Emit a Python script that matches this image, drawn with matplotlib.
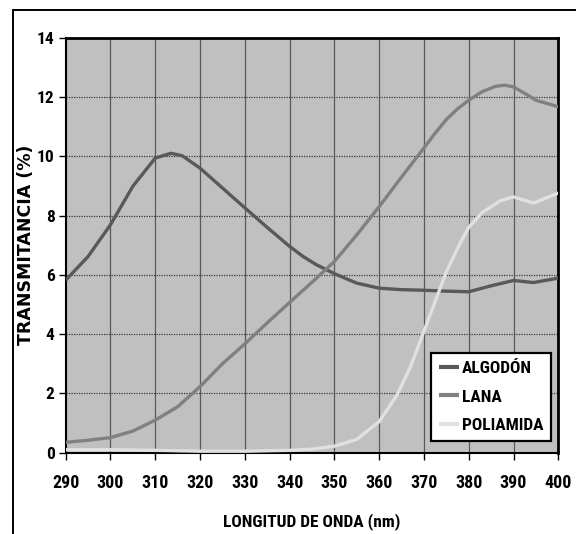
import matplotlib
matplotlib.use("Agg")
import matplotlib.pyplot as plt
from matplotlib import font_manager
from matplotlib.lines import Line2D

# ---- data ----
wl_algodon = [290, 295, 300, 305, 310, 313.5, 316, 320, 325, 330, 335, 340, 343, 346, 350, 355, 360, 365, 370, 375, 380, 385, 390, 394.5, 400]
algodon = [5.82, 6.62, 7.69, 8.99, 9.94, 10.1, 10.02, 9.6, 8.93, 8.26, 7.6, 6.96, 6.62, 6.34, 6.04, 5.72, 5.55, 5.5, 5.48, 5.45, 5.43, 5.63, 5.81, 5.74, 5.89]

wl_lana = [290, 295, 300, 305, 310, 315, 320, 325, 330, 335, 340, 345, 350, 355, 360, 365, 370, 372.5, 375, 377.5, 380, 383, 386, 388, 390, 393, 395, 400]
lana = [0.35, 0.42, 0.51, 0.73, 1.1, 1.55, 2.23, 3.0, 3.67, 4.38, 5.07, 5.75, 6.45, 7.35, 8.3, 9.3, 10.28, 10.78, 11.24, 11.6, 11.89, 12.18, 12.36, 12.4, 12.34, 12.08, 11.89, 11.67]

wl_poli = [290, 300, 310, 320, 330, 340, 345, 350, 355, 360, 364, 367, 370, 372.5, 375, 378, 380, 383, 387, 390, 394.5, 400]
poli = [0.1, 0.1, 0.08, 0.05, 0.05, 0.08, 0.12, 0.22, 0.45, 1.05, 1.95, 2.9, 4.1, 5.1, 6.1, 7.05, 7.6, 8.1, 8.5, 8.63, 8.42, 8.76]

series_names = ["ALGODÓN", "LANA", "POLIAMIDA"]
series_colors = ["#595959", "#808080", "#e0e0e0"]
x_ticks = [290, 300, 310, 320, 330, 340, 350, 360, 370, 380, 390, 400]
y_ticks = [0, 2, 4, 6, 8, 10, 12, 14]
x_label = "LONGITUD DE ONDA (nm)"
y_label = "TRANSMITANCIA (%)"

# ---- fonts: look for a narrow / condensed bold face ----
ttf = font_manager.fontManager.ttflist


def is_bold(f):
    w = f.weight
    if isinstance(w, str):
        return "bold" in w.lower() or "black" in w.lower() or "heavy" in w.lower()
    return w >= 600


def score(f):
    s = (f.name + " " + f.fname).lower()
    if "italic" in s or "oblique" in s:
        return None
    if not ("narrow" in s or "condensed" in s):
        return None
    if "semicondensed" in s or "semi" in s or "extra" in s or "ultra" in s:
        return None
    if not is_bold(f):
        return None
    order = ["liberation", "arial", "roboto", "noto", "open", "dejavu", "lato", "inter"]
    for i, o in enumerate(order):
        if o in s:
            return i
    return len(order)


cands = [(score(f), f) for f in ttf]
cands = [c for c in cands if c[0] is not None]
cands.sort(key=lambda c: c[0])
narrow_path = cands[0][1].fname if cands else None


def nfont(size):
    if narrow_path:
        return font_manager.FontProperties(fname=narrow_path, size=size)
    return font_manager.FontProperties(family=["Liberation Sans", "DejaVu Sans"],
                                       weight="bold", size=size * 0.85)


W, H = 576, 534
fig = plt.figure(figsize=(W / 100, H / 100), dpi=100)
fig.patch.set_facecolor("white")

# outer frame (top and left visible)
fig.add_artist(Line2D([13 / W, 13 / W], [0, 1 - 10 / H], transform=fig.transFigure,
                      color="black", lw=1.4))
fig.add_artist(Line2D([13 / W, 1], [1 - 10 / H, 1 - 10 / H], transform=fig.transFigure,
                      color="black", lw=1.4))

left, right = 65.7 / W, 558.3 / W
bottom, top = (H - 452.7) / H, (H - 37.7) / H
ax = fig.add_axes([left, bottom, right - left, top - bottom])
ax.set_facecolor("#c0c0c0")

ax.set_xlim(290, 400)
ax.set_ylim(0, 14)
ax.set_xticks(x_ticks)
ax.set_yticks(y_ticks)

# grid
for xv in x_ticks[1:-1]:
    ax.axvline(xv, color="#5a5a5a", lw=0.9, zorder=1)
for yv in y_ticks[1:-1]:
    ax.axhline(yv, color="#3a3a3a", lw=0.9, ls=(0, (1, 1)), zorder=1)

wls = [wl_algodon, wl_lana, wl_poli]
vals = [algodon, lana, poli]
handles = []
for name, col, xs, ys in zip(series_names, series_colors, wls, vals):
    ln, = ax.plot(xs, ys, color=col, lw=2.4, solid_capstyle="butt",
                  solid_joinstyle="round", zorder=3, label=name)
    handles.append(ln)

for s in ax.spines.values():
    s.set_color("black")
    s.set_linewidth(1.5)
ax.spines["top"].set_linewidth(2)
ax.spines["right"].set_linewidth(2)

ax.tick_params(axis="both", direction="out", length=5, width=1, color="black")
ax.tick_params(axis="x", pad=10)
ax.tick_params(axis="y", pad=3)
for lab in ax.get_xticklabels():
    lab.set_fontproperties(nfont(13))
for lab in ax.get_yticklabels():
    lab.set_fontproperties(nfont(12.5))

ax.set_xlabel(x_label, fontproperties=nfont(12.5))
ax.xaxis.set_label_coords(0.5, -0.166)
ax.xaxis.label.set_va("center")

ax.set_ylabel(y_label, fontsize=12.5, fontweight="bold", family=["DejaVu Sans"])
ax.yaxis.set_label_coords(-0.0806, 0.5)
ax.yaxis.label.set_va("center")

leg = ax.legend(handles=handles, loc="lower right", bbox_to_anchor=(0.986, 0.028),
                frameon=True, fancybox=False, edgecolor="black", facecolor="white",
                framealpha=1, handlelength=1.15, handletextpad=0.2, labelspacing=0.78,
                borderpad=0.45, borderaxespad=0, prop=nfont(12.5))
leg.get_frame().set_linewidth(1.6)
for lh in leg.get_lines():
    lh.set_linewidth(3)
leg.set_zorder(5)

fig.savefig("out.png", dpi=100)
